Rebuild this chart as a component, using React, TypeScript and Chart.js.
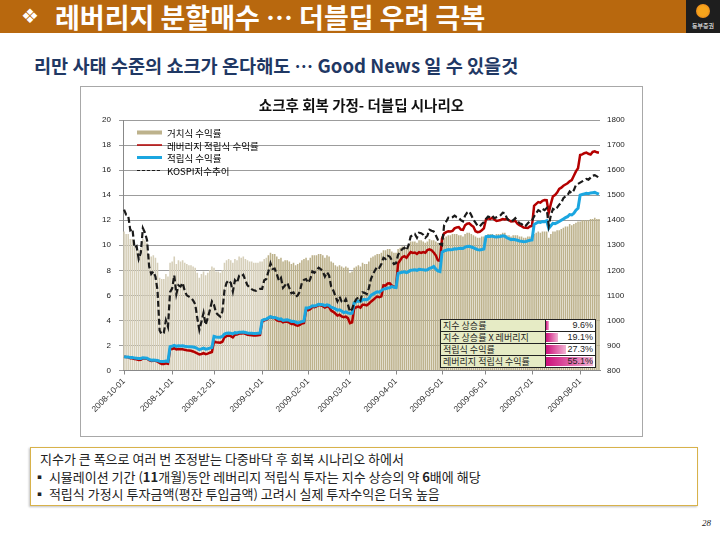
import React, { useEffect, useRef } from "react";
import { Chart, registerables } from "chart.js";

Chart.register(...registerables);

// ---------- data ----------
const monthTicks = [
  "2008-10-01", "2008-11-01", "2008-12-01", "2009-01-01", "2009-02-01", "2009-03-01",
  "2009-04-01", "2009-05-01", "2009-06-01", "2009-07-01", "2009-08-01",
];
// number of daily points (bars) in each month
const barsPerMonth = [23, 20, 23, 22, 20, 22, 22, 21, 22, 23, 10];

const seriesNames = ["거치식 수익률", "레버리지 적립식 수익률", "적립식 수익률", "KOSPI지수추이"];

// 거치식 (left axis)
const lumpSum = [
  11.1, 10.9, 10.9, 10.5, 10.5, 9.9, 10.0, 9.6, 9.8, 10.5, 10.4, 10.2, 9.3, 9.1, 9.2, 9.0, 8.6, 7.4, 7.3, 7.3, 7.7, 7.5, 8.6,
  8.7, 9.1, 8.5, 8.8, 8.7, 8.8, 8.6, 8.5, 8.4, 8.4, 8.3, 8.2, 7.8, 7.4, 7.7, 7.9, 7.6, 7.8, 8.0, 8.3,
  8.2, 7.9, 7.9, 7.8, 8.0, 8.6, 8.8, 8.9, 8.8, 8.6, 8.9, 8.8, 9.1, 9.0, 9.1, 8.9, 8.8, 8.7, 8.7, 8.6, 8.6, 8.6, 8.7,
  8.7, 8.9, 9.0, 9.2, 9.4, 9.3, 9.3, 9.1, 8.9, 9.0, 8.7, 8.8, 8.8, 8.7, 8.5, 8.6, 8.4, 8.5, 8.6, 8.8, 8.9, 9.0,
  8.8, 9.0, 9.2, 9.2, 9.2, 9.3, 9.3, 9.2, 9.0, 9.2, 9.1, 8.7, 8.6, 8.4, 8.3, 8.4, 8.3, 8.2, 8.3, 8.2,
  7.8, 7.9, 8.2, 8.3, 8.4, 8.3, 8.6, 8.5, 8.5, 8.7, 9.0, 9.1, 9.2, 9.3, 9.3, 9.4, 9.6, 9.6, 9.7, 9.7, 9.5, 9.4,
  9.4, 9.7, 9.8, 9.9, 9.9, 9.8, 10.0, 10.3, 10.3, 10.3, 10.2, 10.4, 10.4, 10.3, 10.2, 10.3, 10.5, 10.4, 10.4, 10.3, 10.2, 10.0,
  10.0, 10.6, 10.7, 10.8, 10.8, 10.9, 10.9, 10.9, 10.8, 10.8, 10.7, 10.9, 11.0, 11.0, 10.9, 10.8, 10.7, 10.6, 10.6, 10.7, 10.7,
  10.8, 10.9, 10.9, 10.9, 10.8, 10.9, 10.9, 10.9, 11.0, 11.0, 10.8, 10.8, 10.7, 10.8, 10.8, 10.8, 10.7, 10.7, 10.6, 10.6, 10.7, 10.7,
  10.8, 10.9, 11.0, 11.1, 11.0, 11.1, 11.1, 11.1, 10.6, 10.9, 11.1, 11.1, 11.2, 11.2, 11.3, 11.4, 11.5, 11.5, 11.7, 11.6, 11.7, 11.8, 11.9,
  11.9, 12.0, 12.0, 12.0, 12.0, 12.1, 12.1, 12.2, 12.1, 12.1,
];

// 레버리지 적립식 (left axis)
const leveragedInstallment = [
  1.10, 1.07, 1.06, 0.98, 0.98, 0.91, 0.90, 0.84, 0.86, 0.98, 0.96, 0.94, 0.82, 0.76, 0.78, 0.77, 0.72, 0.60, 0.52, 0.52, 0.58, 0.54, 1.70,
  1.72, 1.78, 1.68, 1.72, 1.70, 1.70, 1.65, 1.62, 1.60, 1.58, 1.52, 1.45, 1.36, 1.28, 1.32, 1.38, 1.30, 1.35, 1.42, 1.48,
  2.32, 2.26, 2.24, 2.22, 2.30, 2.65, 2.75, 2.80, 2.75, 2.65, 2.85, 2.88, 2.95, 2.95, 2.98, 2.92, 2.86, 2.84, 2.82, 2.80, 2.80, 2.82, 2.84,
  3.90, 4.00, 4.05, 4.18, 4.30, 4.20, 4.20, 4.02, 3.95, 3.98, 3.85, 3.90, 3.90, 3.82, 3.72, 3.74, 3.62, 3.58, 3.64, 3.75, 3.80, 4.85,
  4.82, 4.90, 5.08, 5.06, 5.12, 5.22, 5.20, 5.14, 5.02, 5.12, 5.06, 4.78, 4.68, 4.55, 4.38, 4.45, 4.32, 4.25, 4.30, 4.18,
  3.78, 3.85, 4.97, 5.05, 5.10, 5.02, 5.24, 5.24, 5.20, 5.32, 5.50, 5.62, 5.78, 5.90, 5.86, 5.92, 6.80, 6.78, 6.95, 6.97, 6.78, 6.68,
  6.65, 8.55, 8.80, 9.05, 9.12, 9.00, 9.24, 9.45, 9.38, 9.42, 9.30, 9.45, 9.38, 9.45, 9.40, 9.62, 9.68, 9.60, 9.42, 9.20, 8.80, 8.75,
  10.55, 10.95, 11.05, 11.12, 11.10, 11.15, 11.35, 11.42, 11.45, 11.25, 11.22, 11.60, 11.72, 11.75, 11.60, 11.48, 11.12, 11.05, 11.08, 11.20, 11.35,
  12.05, 12.15, 12.10, 12.20, 12.05, 11.95, 11.98, 12.02, 12.10, 12.06, 12.10, 12.00, 11.90, 11.92, 11.95, 11.72, 11.60, 11.52, 11.42, 11.40, 11.38, 11.50,
  11.55, 13.15, 13.30, 13.45, 13.40, 13.55, 13.62, 13.60, 12.60, 13.30, 13.90, 14.00, 14.20, 14.50, 14.60, 14.75, 14.85, 14.95, 15.10, 15.20, 15.55, 15.90, 16.15,
  17.20, 17.25, 17.35, 17.40, 17.30, 17.25, 17.45, 17.50, 17.42, 17.38,
];

// 적립식 (left axis)
const installment = [
  1.10, 1.08, 1.07, 1.03, 1.03, 0.99, 0.98, 0.95, 0.96, 1.02, 1.00, 0.98, 0.88, 0.82, 0.83, 0.82, 0.80, 0.74, 0.72, 0.72, 0.75, 0.72, 1.90,
  1.95, 2.00, 1.93, 1.97, 1.96, 1.98, 1.94, 1.91, 1.90, 1.89, 1.87, 1.84, 1.76, 1.66, 1.72, 1.78, 1.70, 1.74, 1.79, 1.84,
  2.72, 2.68, 2.66, 2.66, 2.72, 2.92, 2.98, 3.00, 2.98, 2.92, 3.02, 3.00, 3.06, 3.06, 3.08, 3.04, 3.00, 2.98, 2.97, 2.96, 2.96, 2.97, 2.98,
  4.00, 4.08, 4.10, 4.20, 4.30, 4.24, 4.24, 4.18, 4.10, 4.12, 4.00, 4.03, 4.05, 4.00, 3.92, 3.93, 3.86, 3.80, 3.84, 3.90, 3.95, 5.00,
  5.00, 5.05, 5.16, 5.15, 5.20, 5.28, 5.27, 5.25, 5.18, 5.24, 5.20, 5.05, 5.00, 4.92, 4.82, 4.85, 4.75, 4.62, 4.68, 4.60,
  4.55, 4.58, 5.40, 5.50, 5.55, 5.52, 5.65, 5.66, 5.65, 5.75, 6.00, 6.10, 6.20, 6.28, 6.25, 6.38, 6.50, 6.52, 6.58, 6.60, 6.70, 6.65,
  6.62, 7.75, 7.80, 7.85, 7.88, 7.82, 7.90, 8.00, 8.02, 8.05, 8.00, 8.08, 8.06, 8.05, 8.00, 8.04, 8.15, 8.20, 8.30, 8.10, 7.95, 7.90,
  9.45, 9.55, 9.60, 9.65, 9.64, 9.66, 9.72, 9.70, 9.75, 9.76, 9.74, 9.85, 9.90, 9.92, 9.86, 9.80, 9.72, 9.65, 9.62, 9.66, 9.70,
  10.68, 10.72, 10.70, 10.74, 10.68, 10.66, 10.68, 10.70, 10.75, 10.72, 10.60, 10.52, 10.45, 10.48, 10.44, 10.40, 10.34, 10.32, 10.28, 10.30, 10.35, 10.40,
  10.42, 11.65, 11.75, 11.85, 11.82, 11.90, 11.88, 11.95, 11.35, 11.55, 11.75, 11.72, 11.80, 11.90, 12.00, 12.10, 12.20, 12.28, 12.45, 12.42, 12.55, 12.80, 12.95,
  14.00, 14.05, 14.10, 14.15, 14.12, 14.18, 14.20, 14.22, 14.15, 14.08,
];

// KOSPI (right axis)
const kospi = [
  1442, 1422, 1418, 1360, 1366, 1290, 1296, 1245, 1270, 1368, 1350, 1320, 1215, 1185, 1195, 1175, 1120, 960, 945, 950, 1000, 975, 1113,
  1128, 1180, 1105, 1140, 1135, 1150, 1118, 1100, 1095, 1090, 1080, 1065, 1010, 962, 995, 1030, 982, 1010, 1040, 1076,
  1062, 1030, 1022, 1015, 1035, 1120, 1150, 1160, 1150, 1115, 1160, 1150, 1178, 1175, 1182, 1160, 1140, 1132, 1125, 1120, 1118, 1124, 1126,
  1126, 1160, 1165, 1195, 1228, 1205, 1207, 1185, 1160, 1170, 1130, 1140, 1150, 1130, 1108, 1112, 1095, 1100, 1115, 1150, 1162, 1165,
  1150, 1165, 1195, 1190, 1200, 1210, 1205, 1195, 1175, 1192, 1180, 1135, 1120, 1098, 1076, 1095, 1075, 1070, 1085, 1063,
  1035, 1045, 1070, 1085, 1092, 1080, 1112, 1110, 1105, 1128, 1165, 1185, 1200, 1215, 1210, 1225, 1250, 1245, 1258, 1255, 1240, 1225,
  1228, 1262, 1275, 1285, 1290, 1280, 1300, 1335, 1340, 1345, 1330, 1350, 1348, 1342, 1330, 1338, 1362, 1358, 1355, 1340, 1322, 1305,
  1300, 1380, 1395, 1410, 1408, 1412, 1418, 1412, 1410, 1400, 1395, 1418, 1430, 1435, 1420, 1402, 1390, 1378, 1375, 1385, 1392,
  1405, 1415, 1412, 1418, 1408, 1412, 1415, 1420, 1430, 1428, 1408, 1398, 1395, 1400, 1408, 1398, 1388, 1385, 1375, 1378, 1388, 1395,
  1400, 1415, 1428, 1440, 1435, 1445, 1440, 1448, 1378, 1420, 1445, 1440, 1450, 1462, 1470, 1488, 1495, 1500, 1515, 1508, 1520, 1540, 1545,
  1550, 1555, 1560, 1565, 1562, 1570, 1578, 1580, 1575, 1570,
];

const summaryLabels = ["지수 상승률", "지수 상승률 X 레버리지", "적립식 수익률", "레버리지 적립식 수익률"];
const summaryValues = [9.6, 19.1, 27.3, 55.1];

// ---------- styles ----------
const COLORS = {
  barDark: "#BDB28C",
  barLight: "#D6CFB9",
  red: "#B40000",
  blue: "#1BA6E0",
  black: "#1A1A1A",
  grid: "#9C9C9C",
};
const LIGHT_BAR_COUNT = 69; // first bars drawn in the lighter tone

// categories built from the month tick list
const categoryLabels: string[] = [];
const monthStartIdx: number[] = [];
barsPerMonth.forEach((n, m) => {
  monthStartIdx.push(categoryLabels.length);
  for (let i = 0; i < n; i++) categoryLabels.push(i === 0 ? monthTicks[m] : "");
});

const legendPlugin = {
  id: "inlineLegend",
  afterDraw(chart: any) {
    const { ctx, chartArea } = chart;
    const x0 = chartArea.left + 14;
    const sw = 25;
    const tx = x0 + sw + 5;
    const rows = [12.5, 25, 37.5, 50].map((r) => chartArea.top + r);
    ctx.save();
    ctx.fillStyle = COLORS.barDark;
    ctx.fillRect(x0, rows[0] - 2, sw, 4);
    ctx.strokeStyle = COLORS.red;
    ctx.lineWidth = 1.5;
    ctx.beginPath();
    ctx.moveTo(x0, rows[1]);
    ctx.lineTo(x0 + sw, rows[1]);
    ctx.stroke();
    ctx.strokeStyle = COLORS.blue;
    ctx.lineWidth = 3;
    ctx.beginPath();
    ctx.moveTo(x0, rows[2]);
    ctx.lineTo(x0 + sw, rows[2]);
    ctx.stroke();
    ctx.strokeStyle = COLORS.black;
    ctx.lineWidth = 1;
    ctx.setLineDash([3, 2]);
    ctx.beginPath();
    ctx.moveTo(x0, rows[3] + 0.5);
    ctx.lineTo(x0 + sw, rows[3] + 0.5);
    ctx.stroke();
    ctx.setLineDash([]);
    ctx.fillStyle = "#000";
    ctx.font = '9.5px "Noto Sans CJK KR", sans-serif';
    ctx.textBaseline = "middle";
    ctx.textAlign = "left";
    seriesNames.forEach((name, i) => ctx.fillText(name, tx, rows[i] + 1));
    ctx.restore();
  },
};

function ChartBox() {
  const ref = useRef<HTMLCanvasElement | null>(null);
  useEffect(() => {
    if (!ref.current) return;
    const tickFont = { family: '"Liberation Sans", Arial, sans-serif', size: 8 };
    const chart = new Chart(ref.current, {
      type: "bar",
      data: {
        labels: categoryLabels,
        datasets: [
          {
            type: "bar",
            label: seriesNames[0],
            data: lumpSum,
            yAxisID: "y",
            backgroundColor: lumpSum.map((_, i) => (i < LIGHT_BAR_COUNT ? COLORS.barLight : COLORS.barDark)),
            borderWidth: 0,
            barPercentage: 0.75,
            categoryPercentage: 1,
            order: 3,
          },
          {
            type: "line",
            label: seriesNames[1],
            data: leveragedInstallment,
            yAxisID: "y",
            borderColor: COLORS.red,
            borderWidth: 2.5,
            pointRadius: 0,
            tension: 0,
            order: 2,
          },
          {
            type: "line",
            label: seriesNames[2],
            data: installment,
            yAxisID: "y",
            borderColor: COLORS.blue,
            borderWidth: 3,
            pointRadius: 0,
            tension: 0,
            order: 1,
          },
          {
            type: "line",
            label: seriesNames[3],
            data: kospi,
            yAxisID: "y1",
            borderColor: COLORS.black,
            borderWidth: 2.2,
            borderDash: [6, 3],
            pointRadius: 0,
            tension: 0,
            order: 0,
          },
        ] as any,
      },
      options: {
        animation: false,
        responsive: false,
        devicePixelRatio: 1,
        layout: { padding: { top: 33, left: 0, right: 0, bottom: 5.5 } },
        plugins: { legend: { display: false }, tooltip: { enabled: false }, title: { display: false } },
        scales: {
          x: {
            type: "category",
            offset: true,
            grid: { display: true, drawOnChartArea: false, drawTicks: true, tickLength: 4, color: "#888", offset: false },
            border: { display: true, color: "#888" },
            ticks: {
              autoSkip: false,
              minRotation: 45,
              maxRotation: 45,
              color: "#333",
              font: { family: '"Liberation Sans", Arial, sans-serif', size: 8.5 },
              padding: 2,
            },
            afterBuildTicks: (scale: any) => {
              scale.ticks = monthStartIdx.map((v) => ({ value: v }));
            },
            afterFit: (scale: any) => {
              scale.height = 60;
            },
          },
          y: {
            position: "left",
            min: 0,
            max: 20,
            grid: { color: COLORS.grid, tickLength: 4 },
            border: { display: true, color: "#888" },
            ticks: { stepSize: 2, color: "#222", font: tickFont, padding: 8 },
            afterFit: (scale: any) => {
              scale.width = 42;
            },
          },
          y1: {
            position: "right",
            min: 800,
            max: 1800,
            grid: { drawOnChartArea: false, drawTicks: false },
            border: { display: false },
            ticks: { stepSize: 100, color: "#222", font: tickFont, padding: 7, callback: (v: any) => String(v) },
            afterFit: (scale: any) => {
              scale.width = 42;
            },
          },
        },
      } as any,
      plugins: [legendPlugin],
    });
    return () => chart.destroy();
  }, []);
  return <canvas ref={ref} width={561} height={349} style={{ display: "block", width: 561, height: 349 }} />;
}

function SummaryTable() {
  const min = Math.min(...summaryValues);
  const max = Math.max(...summaryValues);
  return (
    <div
      style={{
        position: "absolute",
        left: 440,
        top: 319,
        width: 154,
        border: "1px solid #222",
        background: "#fff",
        fontFamily: '"Noto Sans CJK KR", sans-serif',
        fontSize: 9,
        color: "#222",
      }}
    >
      {summaryLabels.map((lab, i) => {
        const w = 3 + ((summaryValues[i] - min) / (max - min)) * 44;
        return (
          <div
            key={lab}
            style={{
              display: "flex",
              height: 11,
              borderTop: i === 0 ? "none" : "1px solid #222",
              lineHeight: "11px",
            }}
          >
            <div style={{ width: 102, background: "#E6EBC5", borderRight: "1px solid #222", paddingLeft: 2, whiteSpace: "nowrap", overflow: "hidden" }}>
              {lab}
            </div>
            <div style={{ position: "relative", flex: 1 }}>
              <div
                style={{
                  position: "absolute",
                  left: 0,
                  top: 1,
                  bottom: 1,
                  width: w,
                  background: "linear-gradient(to right, #CC0F7A, #F2B3D4)",
                }}
              />
              <div style={{ position: "absolute", right: 2, top: 0, fontFamily: '"Liberation Sans", Arial, sans-serif' }}>
                {summaryValues[i].toFixed(1)}%
              </div>
            </div>
          </div>
        );
      })}
    </div>
  );
}

export default function App() {
  const kr = '"Noto Sans CJK KR", sans-serif';
  return (
    <div style={{ position: "absolute", left: 0, top: 0, width: 720, height: 540, background: "#fff", overflow: "hidden", fontFamily: kr }}>
      <div style={{ position: "absolute", left: 0, top: 0, width: 686, height: 33, background: "#B8680E" }} />
      <div style={{ position: "absolute", left: 21, top: 0, height: 33, lineHeight: "33px", color: "#fff", fontSize: 20, fontFamily: '"DejaVu Sans", sans-serif' }}>
        ❖
      </div>
      <div style={{ position: "absolute", left: 55, top: 0, height: 33, lineHeight: "33px", color: "#fff", fontSize: 27, fontWeight: 700, whiteSpace: "nowrap" }}>
        레버리지 분할매수 … 더블딥 우려 극복
      </div>
      <div style={{ position: "absolute", left: 686, top: 0, width: 34, height: 33, background: "#1E1E1E" }}>
        <div style={{ position: "absolute", left: 10, top: 4, width: 14, height: 14, borderRadius: 7, background: "radial-gradient(circle, #F7A51C 45%, #E0741A 100%)" }} />
        <div style={{ position: "absolute", left: 0, width: 34, top: 22, textAlign: "center", color: "#fff", fontSize: 6, lineHeight: "8px", whiteSpace: "nowrap" }}>
          동부증권
        </div>
      </div>
      <div style={{ position: "absolute", left: 34, top: 53, lineHeight: "24px", fontSize: 18.6, fontWeight: 700, color: "#1F3864", whiteSpace: "nowrap" }}>
        리만 사태 수준의 쇼크가 온다해도 … Good News 일 수 있을것
      </div>
      <div style={{ position: "absolute", left: 80, top: 86, width: 563, height: 351, border: "1px solid #A8A8A8", boxSizing: "border-box" }}>
        <ChartBox />
      </div>
      <div style={{ position: "absolute", left: 80, top: 95, width: 563, textAlign: "center", fontSize: 14.5, fontWeight: 700, color: "#111", lineHeight: "20px" }}>
        쇼크후 회복 가정- 더블딥 시나리오
      </div>
      <SummaryTable />
      <div
        style={{
          position: "absolute",
          left: 30,
          top: 447,
          width: 668,
          height: 59,
          border: "1px solid #D8B24A",
          boxShadow: "-1px 1px 2px rgba(0,0,0,0.25)",
          boxSizing: "border-box",
          fontSize: 13,
          color: "#222",
          lineHeight: "17.5px",
          paddingTop: 2,
          whiteSpace: "nowrap",
        }}
      >
        <div style={{ paddingLeft: 9 }}>지수가 큰 폭으로 여러 번 조정받는 다중바닥 후 회복 시나리오 하에서</div>
        <div style={{ paddingLeft: 2 }}>
          ▪ 시뮬레이션 기간 (<b>11</b>개월)동안 레버리지 적립식 투자는 지수 상승의 약 <b>6</b>배에 해당
        </div>
        <div style={{ paddingLeft: 2 }}>▪ 적립식 가정시 투자금액(평잔 투입금액) 고려시 실제 투자수익은 더욱 높음</div>
      </div>
      <div style={{ position: "absolute", left: 702, top: 518, fontSize: 9, fontStyle: "italic", color: "#222", fontFamily: '"Liberation Serif", serif' }}>
        28
      </div>
    </div>
  );
}
